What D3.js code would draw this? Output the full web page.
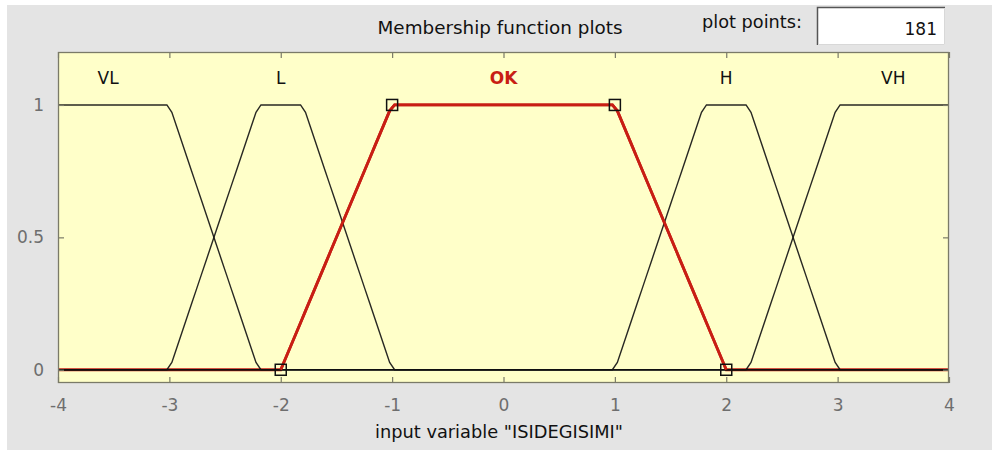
<!DOCTYPE html>
<html>
<head>
<meta charset="utf-8">
<script src="https://cdn.jsdelivr.net/npm/d3@7"></script>
<style>
  html, body { margin: 0; padding: 0; background: #ffffff; }
  svg { display: block; font-family: "DejaVu Sans", "Liberation Sans", Arial, sans-serif; }
</style>
</head>
<body>
<svg id="chart" width="992" height="450"></svg>
<script>
// Membership functions of input variable "ISIDEGISIMI" (trapezoids a, b, c, d)
const mfNames = ["VL", "L", "OK", "H", "VH"];
const mfParams = [
  [-5.0, -4.0, -3.0, -2.2],
  [-3.0, -2.2, -1.8, -1.0],
  [-2.0, -1.0, 1.0, 2.0],
  [1.0, 1.8, 2.2, 3.0],
  [2.2, 3.0, 4.0, 5.0]
];
const mfLabelX = [-3.55, -2, 0, 2, 3.5];
const selectedMf = "OK";
const xRange = [-4, 4];
const plotPoints = 181;
const xTicks = [-4, -3, -2, -1, 0, 1, 2, 3, 4];
const yTicks = [0, 0.5, 1];
const yRange = [-0.05, 1.2];

const svg = d3.select("#chart");

// window background
svg.append("rect").attr("x", 7).attr("y", 5).attr("width", 985).attr("height", 445).attr("fill", "#e4e4e4");

const plot = { left: 58, top: 52, right: 949, bottom: 383 };
const x = d3.scaleLinear().domain(xRange).range([plot.left, plot.right]);
const y = d3.scaleLinear().domain(yRange).range([plot.bottom, plot.top]);

// plot area
svg.append("rect")
  .attr("x", plot.left).attr("y", plot.top)
  .attr("width", plot.right - plot.left).attr("height", plot.bottom - plot.top)
  .attr("fill", "#ffffc9");

function trapmf(v, p) {
  const [a, b, c, d] = p;
  const up = b === a ? (v >= b ? 1 : 0) : (v - a) / (b - a);
  const down = d === c ? (v <= c ? 1 : 0) : (d - v) / (d - c);
  return Math.max(0, Math.min(up, 1, down));
}

const xs = d3.range(plotPoints).map(i => xRange[0] + i * (xRange[1] - xRange[0]) / (plotPoints - 1));
const line = d3.line().x(d => x(d[0])).y(d => y(d[1]));

// selected function underneath, others on top of it
const selIdx = mfNames.indexOf(selectedMf);
svg.append("path")
  .datum(xs.map(v => [v, trapmf(v, mfParams[selIdx])]))
  .attr("d", line).attr("fill", "none")
  .attr("stroke", "#c81e14").attr("stroke-width", 2.8);

mfNames.forEach((name, i) => {
  if (i === selIdx) return;
  svg.append("path")
    .datum(xs.map(v => [v, trapmf(v, mfParams[i])]))
    .attr("d", line).attr("fill", "none")
    .attr("stroke", "#111").attr("stroke-width", 1.4).attr("stroke-opacity", 0.9);
});

// redraw the sloped/plateau part of the selected function on top
const selP = mfParams[selIdx];
svg.append("path")
  .datum(xs.filter(v => v >= selP[0] && v <= selP[3]).map(v => [v, trapmf(v, selP)]))
  .attr("d", line).attr("fill", "none")
  .attr("stroke", "#c81e14").attr("stroke-width", 2.8);

// vertex markers on the selected function
svg.selectAll("rect.vertex")
  .data(selP.map((v, k) => [v, (k === 0 || k === 3) ? 0 : 1]))
  .enter().append("rect").attr("class", "vertex")
  .attr("x", d => x(d[0]) - 5.5).attr("y", d => y(d[1]) - 5.5)
  .attr("width", 11).attr("height", 11)
  .attr("fill", "none").attr("stroke", "#111").attr("stroke-width", 1.5);

// function names
svg.selectAll("text.mf")
  .data(mfNames)
  .enter().append("text").attr("class", "mf")
  .attr("x", (d, i) => x(mfLabelX[i])).attr("y", y(1.1) + 6)
  .attr("text-anchor", "middle")
  .attr("font-size", 17)
  .attr("font-weight", d => d === selectedMf ? "bold" : "normal")
  .attr("fill", d => d === selectedMf ? "#c81e14" : "#111")
  .text(d => d);

// axes box and ticks
const axisColor = "#7a7a68";
svg.append("rect")
  .attr("x", plot.left + 0.5).attr("y", plot.top + 0.5)
  .attr("width", plot.right - plot.left - 1).attr("height", plot.bottom - plot.top - 1)
  .attr("fill", "none").attr("stroke", axisColor).attr("stroke-width", 1.3);

const xAxisB = d3.axisBottom(x).tickValues(xTicks).tickSizeInner(-6).tickSizeOuter(0).tickPadding(16).tickFormat(d => String(d));
const gxb = svg.append("g").attr("transform", `translate(0,${plot.bottom})`).call(xAxisB);
const xAxisT = d3.axisTop(x).tickValues(xTicks).tickSizeInner(-6).tickSizeOuter(0).tickFormat("");
const gxt = svg.append("g").attr("transform", `translate(0,${plot.top})`).call(xAxisT);
const yAxisL = d3.axisLeft(y).tickValues(yTicks).tickSizeInner(-6).tickSizeOuter(0).tickPadding(14).tickFormat(d => String(d));
const gyl = svg.append("g").attr("transform", `translate(${plot.left},0)`).call(yAxisL);
const yAxisR = d3.axisRight(y).tickValues(yTicks).tickSizeInner(-6).tickSizeOuter(0).tickFormat("");
const gyr = svg.append("g").attr("transform", `translate(${plot.right},0)`).call(yAxisR);

[gxb, gxt, gyl, gyr].forEach(g => {
  g.select(".domain").remove();
  g.selectAll(".tick line").attr("stroke", axisColor).attr("stroke-width", 1.2);
  g.selectAll(".tick text").attr("fill", "#6e6e6e").attr("font-size", 17)
    .attr("font-family", "DejaVu Sans, Liberation Sans, Arial, sans-serif");
});

// title
svg.append("text").attr("x", 500).attr("y", 34).attr("text-anchor", "middle")
  .attr("font-size", 17).attr("fill", "#111")
  .attr("textLength", 245).attr("lengthAdjust", "spacingAndGlyphs")
  .text("Membership function plots");

// plot points control
svg.append("text").attr("x", 802).attr("y", 28).attr("text-anchor", "end")
  .attr("font-size", 17).attr("fill", "#111")
  .attr("textLength", 100).attr("lengthAdjust", "spacingAndGlyphs")
  .text("plot points:");
svg.append("rect").attr("x", 817).attr("y", 7).attr("width", 128).attr("height", 38)
  .attr("fill", "#ffffff");
svg.append("path").attr("d", "M817.5,45 V7.5 H945").attr("fill", "none")
  .attr("stroke", "#555").attr("stroke-width", 1.5);
svg.append("path").attr("d", "M818,44.5 H944.5 V8").attr("fill", "none")
  .attr("stroke", "#d8d8d8").attr("stroke-width", 1);
svg.append("text").attr("x", 937).attr("y", 35).attr("text-anchor", "end")
  .attr("font-size", 17).attr("fill", "#111").text(plotPoints);

// x axis label
svg.append("text").attr("x", 499).attr("y", 438).attr("text-anchor", "middle")
  .attr("font-size", 17).attr("fill", "#111")
  .attr("textLength", 248).attr("lengthAdjust", "spacingAndGlyphs")
  .text('input variable "ISIDEGISIMI"');
</script>
</body>
</html>
